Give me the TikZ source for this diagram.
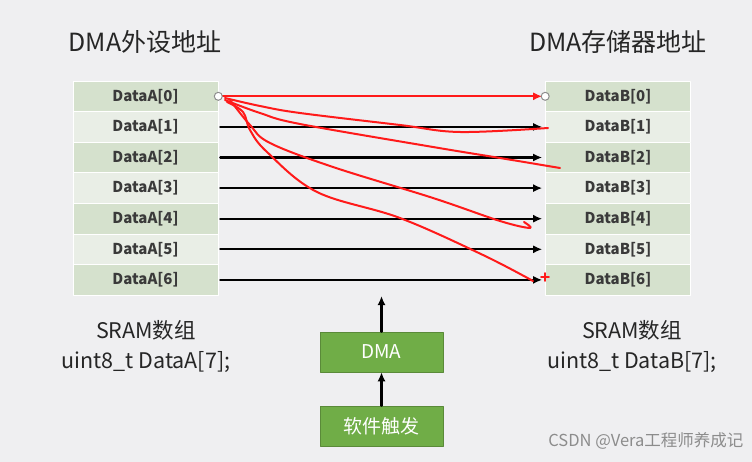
\documentclass[tikz,border=0pt]{standalone}
\usepackage{fontspec}
\setmainfont{Noto Sans CJK SC}
\usetikzlibrary{arrows.meta}
\definecolor{bgpanel}{HTML}{EFEFF1}
\definecolor{rowdark}{HTML}{D5E1CD}
\definecolor{rowlight}{HTML}{E9EEE6}
\definecolor{dmagreen}{HTML}{70AD47}
\definecolor{penred}{HTML}{FF1A1A}
\definecolor{labeltext}{HTML}{3A3A3A}

\begin{document}
\begin{tikzpicture}[
  x=1pt,
  y=-1pt,
  line join=round,
  line cap=round,
  cell/.style={draw=white,line width=0.6pt,minimum width=145pt,minimum height=30.6pt,
    inner sep=0pt,font=\fontsize{15}{16}\selectfont\bfseries,text=labeltext},
  title/.style={font=\fontsize{25}{28}\selectfont,text=black!85,align=center},
  decl/.style={font=\fontsize{21.5}{30}\selectfont,text=black!85,align=center},
  greenbox/.style={fill=dmagreen,draw=dmagreen!80!black,line width=0.5pt,minimum width=123pt,
    minimum height=40pt,inner sep=0pt,text=white,font=\fontsize{19}{20}\selectfont},
  flow/.style={draw=black,line width=2.3pt,-{Latex[length=9pt,width=8pt]}},
  pen/.style={draw=penred,line width=2pt},
  port/.style={circle,draw=black!45,fill=white,line width=1pt,minimum size=8pt,inner sep=0pt}
]
  % Panel background and picture margins.
  \fill[bgpanel] (0,0) rectangle (752,462);
  \useasboundingbox (0,0) rectangle (752,462);

  % Column headings.
  \node[title] (hdra) at (145,42) {DMA外设地址};
  \node[title] (hdrb) at (618,42) {DMA存储器地址};

  % The two SRAM arrays, rows alternate between two greens.
  \foreach \i in {0,...,6} {
    \pgfmathsetmacro{\yy}{96.3+30.6*\i}
    \pgfmathtruncatemacro{\odd}{mod(\i,2)}
    \ifnum\odd=0 \def\rowfill{rowdark}\else\def\rowfill{rowlight}\fi
    \node[cell,fill=\rowfill] (a\i) at (145.5,\yy) {DataA[\i]};
    \node[cell,fill=\rowfill] (b\i) at (618,\yy) {DataB[\i]};
  }

  % Transfer arrows, one per element.
  \foreach \i in {1,...,6} {
    \draw[flow] ([xshift=2pt]a\i.east) -- ([xshift=-3pt]b\i.west);
  }
  \draw[flow,draw=penred] (a0.east) -- ([xshift=-3pt]b0.west);
  \node[port] (srcport) at (a0.east) {};
  \node[port] (dstport) at (b0.west) {};

  % Hand-drawn red strokes over the arrows.
  \draw[pen] plot[smooth,tension=0.6] coordinates {(225,98) (260,106) (300,113) (400,125) (460,132) (548,128)};
  \draw[pen] plot[smooth,tension=0.6] coordinates {(225,100) (260,113) (300,124) (433,147) (500,158) (560,168)};
  \draw[pen] plot[smooth,tension=0.6] coordinates {(230,100) (250,125) (270,143) (333,167) (433,198) (500,221) (530,228) (524,222)};
  \draw[pen] plot[smooth,tension=0.6] coordinates {(227,102) (243,112) (250,130) (267,152) (317,192) (400,218) (483,255) (533,281)};
  \draw[pen,line width=1.6pt] (541,277) -- (549,277) (545,273) -- (545,281);

  % Array declarations under the columns.
  \node[decl] (decla) at (146,347) {SRAM数组\\uint8\_t DataA[7];};
  \node[decl] (declb) at (632,347) {SRAM数组\\uint8\_t DataB[7];};

  % DMA engine and its software trigger.
  \node[greenbox] (dma) at (381.5,352) {DMA};
  \node[greenbox] (trig) at (381.5,426) {软件触发};
  \coordinate (dmaout) at (381.5,296);
  \draw[flow] (dma.north) -- (dmaout);
  \draw[flow] (trig.north) -- (dma.south);

  % Watermark.
  \node[anchor=east,text=black!45,font=\fontsize{16.5}{18}\selectfont] (mark) at (747,441) {CSDN @Vera工程师养成记};
\end{tikzpicture}
\end{document}
